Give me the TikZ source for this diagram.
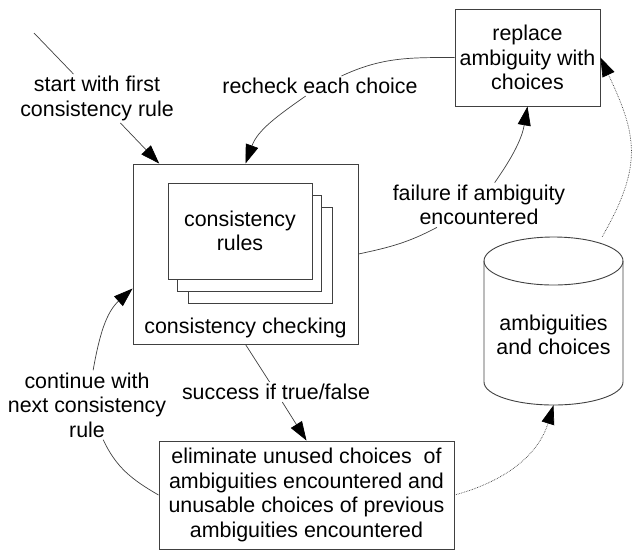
\documentclass[tikz,border=0pt]{standalone}
\usepackage{fontspec}
\setmainfont{Liberation Sans}
\usetikzlibrary{arrows.meta}
\begin{document}
\begin{tikzpicture}[x=1pt,y=-1pt,font=\fontsize{21.4}{24.6}\selectfont]
	% Styles
	\tikzstyle{trait}=[draw=black!75,line width=0.9pt]
	\tikzstyle{boite}=[trait,fill=white,inner sep=0pt,align=center]
	\tikzstyle{page}=[boite,minimum width=144pt,minimum height=96pt]
	\tikzstyle{etiquette}=[align=center,inner sep=2pt]
	\tikzstyle{lien}=[-,draw=black!75,line width=0.7pt]
	\tikzstyle{fleche}=[lien,-{Triangle[length=19pt,width=13pt,color=black]}]
	\tikzstyle{flechePointillee}=[fleche,densely dotted]
	% Cadre
	\useasboundingbox (0,0) rectangle (636,550);
	% Noeuds
	\node[boite,minimum width=225pt,minimum height=180pt] (cc) at (245.5,254) {};
	\node[page] (page3) at (260,255) {};
	\node[page] (page2) at (249,243) {};
	\node[page] (regles) at (240,231) {consistency\\rules};
	\node[etiquette] (ccTexte) at (245.5,328) {consistency checking};
	\node[boite,minimum width=145pt,minimum height=97pt] (rep) at (527.5,57.5) {replace\\ambiguity with\\choices};
	\node[boite,minimum width=295pt,minimum height=108pt] (elim) at (306.5,495) {eliminate unused choices\ \ of\\ambiguities encountered and\\unusable choices of previous\\ambiguities encountered};
	\node[minimum width=139pt,minimum height=168pt,inner sep=0pt] (cyl) at (553.5,321) {};
	\node[etiquette] (cylTexte) at (553.5,335) {ambiguities\\and choices};
	\node[etiquette] (lblDepart) at (97,98.5) {start with first\\consistency rule};
	\node[etiquette] (lblRevoir) at (320,86) {recheck each choice};
	\node[etiquette] (lblEchec) at (479,205) {failure if ambiguity\\encountered};
	\node[etiquette] (lblSucces) at (276,392) {success if true/false};
	\node[etiquette] (lblSuite) at (87,405) {continue with\\next consistency\\rule};
	\coordinate (depart) at (34,33);
	% Base (cylindre)
	\draw[trait] (553.5,261) ellipse[x radius=69.5,y radius=24];
	\draw[trait] (484,261) -- (484,382) arc[start angle=180,end angle=0,x radius=69.5,y radius=23] -- (623,261);
	% Arcs
	\draw[lien] (depart) -- (lblDepart);
	\draw[fleche] (lblDepart) -- (cc);
	\draw[lien] (rep) to[out=180,in=25] (lblRevoir);
	\draw[fleche] (lblRevoir) to[out=-145,in=70] (cc.north);
	\draw[lien] (cc.east) to[out=12,in=208] (lblEchec);
	\draw[fleche] (lblEchec) to[out=55,in=-100] (rep.south);
	\draw[lien] (cc.south) -- (lblSucces);
	\draw[fleche] (lblSucces) -- (elim.north);
	\draw[fleche] (lblSuite) to[out=80,in=-138] (cc.197);
	\draw[lien] (lblSuite) to[out=-65,in=150] (elim.west);
	\draw[flechePointillee] (elim.east) to[out=15,in=-107] (cyl.south);
	\draw[flechePointillee] (cyl.60) to[out=60,in=-65,looseness=1.2] (rep.east);
\end{tikzpicture}
\end{document}
